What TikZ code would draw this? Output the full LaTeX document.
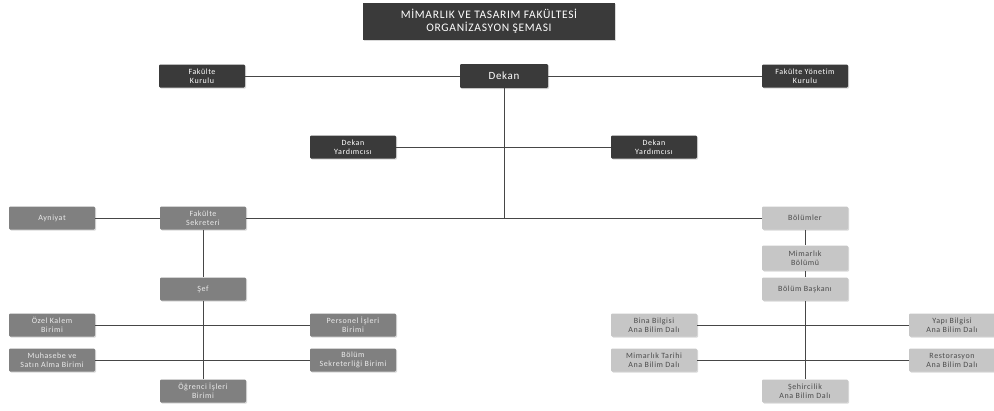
\documentclass[tikz,border=0pt]{standalone}
\usepackage{fontspec}
\setmainfont[Ligatures={NoCommon}]{Carlito}
\usetikzlibrary{shadows}
\definecolor{darkbox}{RGB}{58,58,58}
\definecolor{midbox}{RGB}{128,128,128}
\definecolor{lightbox}{RGB}{198,198,198}
\definecolor{linegray}{RGB}{70,70,70}

\begin{document}
\begin{tikzpicture}[x=1pt, y=-1pt,
        unit/.style={rectangle, rounded corners=1.2pt, minimum width=86pt, minimum height=23pt, inner sep=1pt, align=center, font=\fontsize{8}{9}\selectfont\addfontfeatures{LetterSpace=7}, drop shadow={shadow xshift=1.2pt, shadow yshift=-1.2pt, opacity=0.3}},
        top/.style={unit, fill=darkbox, text=white},
        mid/.style={unit, fill=midbox, text=white!92!black},
        dept/.style={unit, fill=lightbox, text=black!70},
        link/.style={draw=linegray, line width=0.8pt}
    ]
        \useasboundingbox (0,0) rectangle (994,410);

        % title
        \node[top, minimum width=252pt, minimum height=37pt, rounded corners=0pt, font=\fontsize{11.5}{13}\selectfont\addfontfeatures{LetterSpace=6}] (title) at (489, 21.5) {MİMARLIK VE TASARIM FAKÜLTESİ\\ORGANİZASYON ŞEMASI};

        % dean level
        \node[top] (fk) at (202, 76) {Fakülte\\Kurulu};
        \node[top, minimum width=88pt, minimum height=24pt, font=\fontsize{11}{13}\selectfont\addfontfeatures{LetterSpace=6}] (dekan) at (504, 76) {Dekan};
        \node[top] (fyk) at (805, 76) {Fakülte Yönetim\\Kurulu};
        \node[top] (dy1) at (353, 147) {Dekan\\Yardımcısı};
        \node[top] (dy2) at (654, 147) {Dekan\\Yardımcısı};

        % administration
        \node[mid] (ayn) at (52, 218) {Ayniyat};
        \node[mid] (fs) at (203, 218) {Fakülte\\Sekreteri};
        \node[mid] (sef) at (203, 289) {Şef};
        \node[mid] (ozel) at (52, 325) {Özel Kalem\\Birimi};
        \node[mid] (pers) at (353, 325) {Personel İşleri\\Birimi};
        \node[mid] (muh) at (52, 360) {Muhasebe ve\\Satın Alma Birimi};
        \node[mid] (bsek) at (353, 360) {Bölüm\\Sekreterliği Birimi};
        \node[mid] (ogr) at (203, 391) {Öğrenci İşleri\\Birimi};

        % departments
        \node[dept] (bol) at (805, 218) {Bölümler};
        \node[dept, minimum height=25pt] (mim) at (805, 258) {Mimarlık\\Bölümü};
        \node[dept] (bbas) at (805, 289) {Bölüm Başkanı};
        \node[dept] (bina) at (654, 325) {Bina Bilgisi\\Ana Bilim Dalı};
        \node[dept] (yapi) at (952, 325) {Yapı Bilgisi\\Ana Bilim Dalı};
        \node[dept] (mtar) at (654, 360) {Mimarlık Tarihi\\Ana Bilim Dalı};
        \node[dept] (rest) at (952, 360) {Restorasyon\\Ana Bilim Dalı};
        \node[dept] (seh) at (805, 391) {Şehircilik\\Ana Bilim Dalı};

        \coordinate (split) at (dekan |- fs);

        \draw[link] (fk) -- (dekan);
        \draw[link] (dekan) -- (fyk);
        \draw[link] (dy1) -- (dy2);
        \draw[link] (dekan) -- (split);
        \draw[link] (fs) -- (bol);
        \draw[link] (ayn) -- (fs);
        \draw[link] (fs) -- (sef);
        \draw[link] (sef) -- (ogr);
        \draw[link] (ozel) -- (pers);
        \draw[link] (muh) -- (bsek);
        \draw[link] (bol) -- (mim);
        \draw[link] (mim) -- (bbas);
        \draw[link] (bbas) -- (seh);
        \draw[link] (bina) -- (yapi);
        \draw[link] (mtar) -- (rest);
    \end{tikzpicture}
\end{document}
